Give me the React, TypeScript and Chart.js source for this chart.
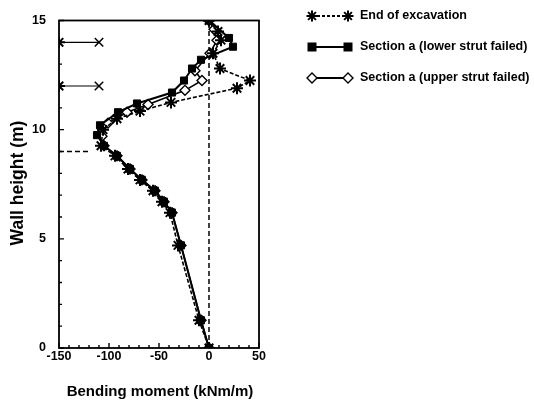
import React, { useEffect, useRef } from "react";
import { Chart, registerables } from "chart.js";

Chart.register(...registerables);

// Bending moment (kNm/m) vs wall height (m)
const endMoment = [0, 9, 12, 4, 11, 41, 28, -38, -69, -92, -106, -108, -94, -81, -69, -56, -47, -39, -31, -10, 0];
const endHeight = [15, 14.5, 14.1, 13.5, 12.8, 12.25, 11.9, 11.25, 10.85, 10.5, 10.0, 9.26, 8.8, 8.2, 7.7, 7.2, 6.7, 6.2, 4.7, 1.27, 0];

const lowerMoment = [0, 20, 24, -8, -17, -25, -37, -72, -91, -109, -112, -105, -92, -79, -67, -54, -45, -37, -28, -8, 0];
const lowerHeight = [15, 14.2, 13.8, 13.2, 12.8, 12.25, 11.7, 11.2, 10.8, 10.2, 9.75, 9.26, 8.8, 8.2, 7.7, 7.2, 6.7, 6.2, 4.7, 1.27, 0];

const upperMoment = [0, 5, 8, 1, -14, -7, -24, -61, -82, -101, -107, -105, -92, -79, -67, -54, -45, -37, -28, -8, 0];
const upperHeight = [15, 14.6, 14.1, 13.5, 12.7, 12.25, 11.8, 11.15, 10.8, 10.3, 9.7, 9.26, 8.8, 8.2, 7.7, 7.2, 6.7, 6.2, 4.7, 1.27, 0];

const strutHeights = [14, 12];
const strutMoments = [-150, -110];
const excavationLevel = [9, 9];
const excavationMoments = [-150, -120];
const zeroLineMoments = [0, 0];
const zeroLineHeights = [0, 15];

const xTicks = [-150, -100, -50, 0, 50];
const yTicks = [0, 5, 10, 15];

const legendLabels = [
  "End of excavation",
  "Section a (lower strut failed)",
  "Section a (upper strut failed)",
];

const FONT = "'Liberation Sans', Arial, sans-serif";

const pts = (xs: number[], ys: number[]) => xs.map((x, i) => ({ x, y: ys[i] }));

function drawMarker(ctx: CanvasRenderingContext2D, kind: string, x: number, y: number) {
  ctx.save();
  ctx.strokeStyle = "#000";
  ctx.fillStyle = "#000";
  ctx.lineWidth = 2;
  if (kind === "star") {
    const r = 5.5;
    ctx.beginPath();
    for (let k = 0; k < 4; k++) {
      const a = (k * Math.PI) / 4;
      ctx.moveTo(x - r * Math.cos(a), y - r * Math.sin(a));
      ctx.lineTo(x + r * Math.cos(a), y + r * Math.sin(a));
    }
    ctx.stroke();
  } else if (kind === "rect") {
    ctx.fillRect(x - 4.5, y - 4.5, 9, 9);
  } else if (kind === "diamond") {
    const r = 5;
    ctx.beginPath();
    ctx.moveTo(x, y - r);
    ctx.lineTo(x + r, y);
    ctx.lineTo(x, y + r);
    ctx.lineTo(x - r, y);
    ctx.closePath();
    ctx.fillStyle = "#fff";
    ctx.fill();
    ctx.lineWidth = 1.4;
    ctx.stroke();
  }
  ctx.restore();
}

const decorPlugin = {
  id: "decor",
  afterDraw(chart: any) {
    const { ctx, chartArea, scales } = chart;
    const xs = scales.x;
    const ys = scales.y;
    ctx.save();
    // box
    ctx.strokeStyle = "#000";
    ctx.lineWidth = 1.8;
    ctx.strokeRect(chartArea.left, chartArea.top, chartArea.right - chartArea.left, chartArea.bottom - chartArea.top);
    // inward ticks
    ctx.lineWidth = 1.4;
    ctx.beginPath();
    for (let v = 0; v <= 15; v++) {
      const py = ys.getPixelForValue(v);
      const len = v % 5 === 0 ? 5 : 3;
      ctx.moveTo(chartArea.left, py);
      ctx.lineTo(chartArea.left + len, py);
    }
    for (let v = -150; v <= 50; v += 10) {
      const px = xs.getPixelForValue(v);
      const len = v % 50 === 0 ? 5 : 3;
      ctx.moveTo(px, chartArea.bottom);
      ctx.lineTo(px, chartArea.bottom - len);
    }
    ctx.stroke();
    // axis titles
    ctx.fillStyle = "#000";
    ctx.font = `bold 15px ${FONT}`;
    ctx.textAlign = "center";
    ctx.textBaseline = "middle";
    ctx.fillText("Bending moment (kNm/m)", 160, 392);
    ctx.save();
    ctx.translate(18, 183);
    ctx.rotate(-Math.PI / 2);
    ctx.font = `bold 17.5px ${FONT}`;
    ctx.fillText("Wall height (m)", 0, 0);
    ctx.restore();
    // legend
    const kinds = ["star", "rect", "diamond"];
    const rows = [16, 47, 78];
    for (let i = 0; i < 3; i++) {
      const y = rows[i];
      ctx.save();
      ctx.strokeStyle = "#000";
      ctx.lineWidth = 1.8;
      if (i === 0) ctx.setLineDash([3, 2]);
      ctx.beginPath();
      ctx.moveTo(312, y);
      ctx.lineTo(348, y);
      ctx.stroke();
      ctx.restore();
      drawMarker(ctx, kinds[i], 312, y);
      drawMarker(ctx, kinds[i], 348, y);
      ctx.fillStyle = "#000";
      ctx.font = `bold 12.5px ${FONT}`;
      ctx.textAlign = "left";
      ctx.textBaseline = "middle";
      ctx.fillText(legendLabels[i], 360, y);
    }
    ctx.restore();
  },
};

export default function App() {
  const ref = useRef<HTMLCanvasElement>(null);
  useEffect(() => {
    document.body.style.margin = "0";
    const canvas = ref.current!;
    const tickFont = { family: FONT, size: 12.5, weight: "bold" as const };
    const chart = new Chart(canvas, {
      type: "scatter",
      data: {
        datasets: [
          {
            label: legendLabels[0],
            data: pts(endMoment, endHeight),
            showLine: true,
            borderColor: "#000",
            borderWidth: 1.6,
            borderDash: [4, 2],
            pointStyle: "star",
            pointRadius: 6,
            pointBorderWidth: 2,
            pointBorderColor: "#000",
            pointBackgroundColor: "#000",
          },
          {
            label: legendLabels[1],
            data: pts(lowerMoment, lowerHeight),
            showLine: true,
            borderColor: "#000",
            borderWidth: 2,
            pointStyle: "rect",
            pointRadius: 5,
            pointBorderWidth: 1,
            pointBorderColor: "#000",
            pointBackgroundColor: "#000",
          },
          {
            label: legendLabels[2],
            data: pts(upperMoment, upperHeight),
            showLine: true,
            borderColor: "#000",
            borderWidth: 1.6,
            pointStyle: "rectRot",
            pointRadius: 5,
            pointBorderWidth: 1.4,
            pointBorderColor: "#000",
            pointBackgroundColor: "#fff",
          },
          ...strutHeights.map((h) => ({
            label: "strut",
            data: pts(strutMoments, [h, h]),
            showLine: true,
            borderColor: "#000",
            borderWidth: 1.2,
            pointStyle: ["star", "crossRot"] as any,
            pointRadius: [6, 6] as any,
            pointBorderWidth: [2, 1.5] as any,
            pointBorderColor: "#000",
            pointBackgroundColor: "#000",
          })),
          {
            label: "excavation level",
            data: pts(excavationMoments, excavationLevel),
            showLine: true,
            borderColor: "#000",
            borderWidth: 1.5,
            borderDash: [5, 3],
            pointRadius: 0,
          },
          {
            label: "zero",
            data: pts(zeroLineMoments, zeroLineHeights),
            showLine: true,
            borderColor: "#000",
            borderWidth: 1.5,
            borderDash: [5, 3],
            pointRadius: 0,
          },
        ],
      },
      options: {
        animation: false,
        responsive: false,
        devicePixelRatio: 1,
        layout: { padding: { left: 0, top: 16, right: 275, bottom: 0 } },
        plugins: { legend: { display: false }, tooltip: { enabled: false } },
        scales: {
          x: {
            type: "linear",
            min: -150,
            max: 50,
            afterBuildTicks: (s: any) => {
              s.ticks = xTicks.map((v) => ({ value: v }));
            },
            afterFit: (s: any) => {
              s.height = 59;
            },
            ticks: { color: "#000", font: tickFont, padding: 1, maxRotation: 0, autoSkip: false },
            grid: { display: false, drawTicks: false },
            border: { display: false },
          },
          y: {
            type: "linear",
            min: 0,
            max: 15,
            afterBuildTicks: (s: any) => {
              s.ticks = yTicks.map((v) => ({ value: v }));
            },
            afterFit: (s: any) => {
              s.width = 59;
            },
            ticks: { color: "#000", font: tickFont, padding: 13, autoSkip: false },
            grid: { display: false, drawTicks: false },
            border: { display: false },
          },
        },
      },
      plugins: [decorPlugin],
    });
    return () => chart.destroy();
  }, []);
  return (
    <div style={{ width: 534, height: 407, background: "#fff" }}>
      <canvas ref={ref} width={534} height={407} style={{ display: "block" }} />
    </div>
  );
}
